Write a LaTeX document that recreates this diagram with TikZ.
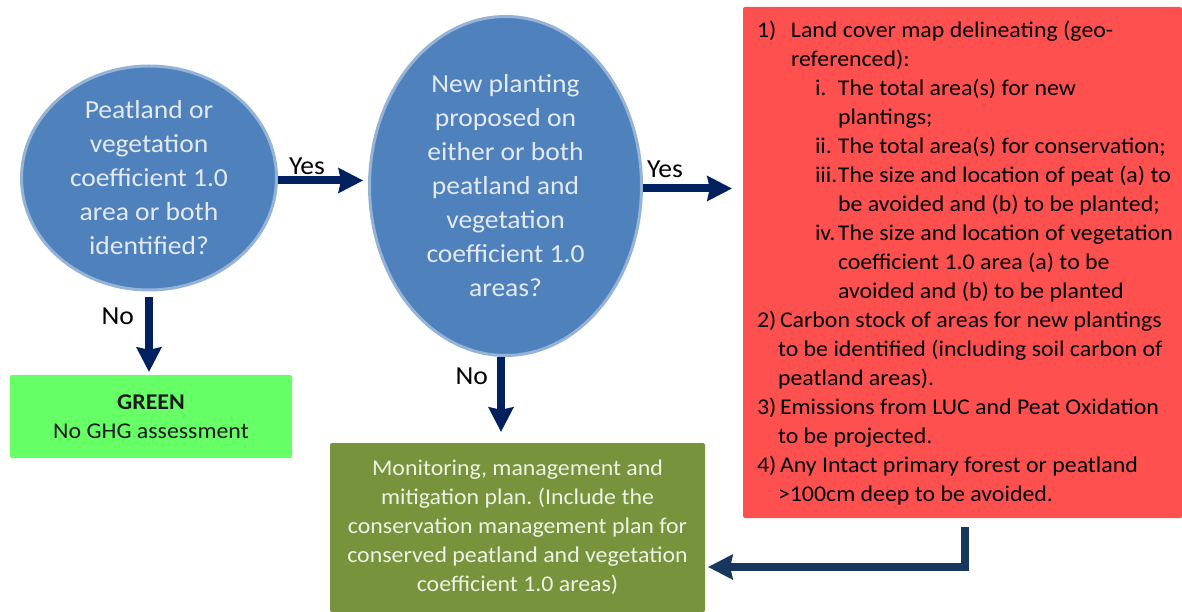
\documentclass[tikz,border=0pt]{standalone}
\usepackage{fontspec}
\setmainfont{Carlito}[FakeStretch=1.06]
\usetikzlibrary{shapes.geometric,arrows.meta}
\frenchspacing

\definecolor{qblue}{HTML}{4F81BD}
\definecolor{qrim}{HTML}{95B3D7}
\definecolor{qtext}{HTML}{E4EAF4}
\definecolor{reqred}{HTML}{FF5050}
\definecolor{greenbox}{HTML}{66FF66}
\definecolor{planolive}{HTML}{77933C}
\definecolor{plantext}{HTML}{EEF2E4}
\definecolor{arrownavy}{HTML}{002060}
\definecolor{backnavy}{HTML}{17375E}

\newcommand\lbl[2]{\makebox[#1][l]{#2}}

\tikzset{
  question/.style={ellipse, fill=qblue, draw=qrim, line width=3pt, inner sep=0pt,
    align=center, text=qtext, font=\fontsize{26}{34}\selectfont},
  infobox/.style={rectangle, rounded corners=2pt, inner sep=0pt, align=center,
    font=\fontsize{22.5}{29}\selectfont},
  flowarrow/.style={draw=arrownavy, line width=8pt,
    -{Stealth[length=25pt, width=26pt, inset=3pt, line width=0pt]}},
  backarrow/.style={flowarrow, draw=backnavy, line join=miter},
  answer/.style={font=\fontsize{26}{29}\selectfont, inner sep=0pt, text=black},
}

\begin{document}
\begin{tikzpicture}[x=1pt, y=-1pt]

\useasboundingbox (0,0) rectangle (1182,612);

% questions
\node[question, minimum width=255pt, minimum height=224pt] (q1) at (149,178)
  {Peatland or\\vegetation\\coefficient 1.0\\area or both\\identified?};
\node[question, minimum width=272pt, minimum height=339pt] (q2) at (505.5,186)
  {New planting\\proposed on\\either or both\\peatland and\\vegetation\\coefficient 1.0\\areas?};

% boxes
\node[infobox, fill=reqred, minimum width=439pt, minimum height=511pt] (req) at (962.5,262.5) {};
\node[anchor=north west, inner sep=0pt, align=left, text=black,
  font=\fontsize{22.5}{29}\selectfont] (reqlist) at ([xshift=14pt, yshift=-9.7pt]req.north west)
  {\strut\lbl{34pt}{1)}Land cover map delineating (geo-\\
   \hspace*{34pt}referenced):\\
   \hspace*{58pt}\lbl{23pt}{i.}The total area(s) for new\\
   \hspace*{81pt}plantings;\\
   \hspace*{58pt}\lbl{23pt}{ii.}The total area(s) for conservation;\\
   \hspace*{58pt}\lbl{23pt}{iii.}The size and location of peat (a) to\\
   \hspace*{81pt}be avoided and (b) to be planted;\\
   \hspace*{58pt}\lbl{23pt}{iv.}The size and location of vegetation\\
   \hspace*{81pt}coefficient 1.0 area (a) to be\\
   \hspace*{81pt}avoided and (b) to be planted\\
   \lbl{23pt}{2)}Carbon stock of areas for new plantings\\
   \hspace*{21pt}to be identified (including soil carbon of\\
   \hspace*{21pt}peatland areas).\\
   \lbl{23pt}{3)}Emissions from LUC and Peat Oxidation\\
   \hspace*{21pt}to be projected.\\
   \lbl{23pt}{4)}Any Intact primary forest or peatland\\
   \hspace*{21pt}>100cm deep to be avoided.};

\node[infobox, fill=greenbox, minimum width=282pt, minimum height=83pt, text=black!90] (green) at (151,416.5)
  {\textbf{GREEN}\\No GHG assessment};
\node[infobox, fill=planolive, minimum width=375pt, minimum height=169pt, text=plantext] (plan) at (517.5,527.5)
  {Monitoring, management and\\mitigation plan. (Include the\\conservation management plan for\\conserved peatland and vegetation\\coefficient 1.0 areas)};

% arrows
\draw[flowarrow] ([yshift=-2.5pt]q1.east) --
  node[answer, pos=0, anchor=base west, shift={(7,-5.5)}] (yes1) {Yes}
  ([xshift=-5pt, yshift=5.5pt]q2.west);
\draw[flowarrow] ([yshift=-2.5pt]q2.east) --
  node[answer, pos=0, anchor=base west, shift={(0,-10.5)}] (yes2) {Yes}
  ([xshift=-11pt, yshift=74pt]req.west);
\draw[flowarrow] ([yshift=-5.5pt]q1.south) --
  node[answer, pos=0, anchor=base east, shift={(-11,27)}] (no1) {No}
  ([xshift=-2pt, yshift=3pt]green.north);
\draw[flowarrow] ([xshift=-4.5pt]q2.south) --
  node[answer, pos=0, anchor=base east, shift={(-9,27)}] (no2) {No}
  ([xshift=-16.5pt, yshift=11pt]plan.north);
\draw[backarrow] ([xshift=2.5pt, yshift=-9pt]req.south) |- ([xshift=3pt, yshift=-39.5pt]plan.east);

\end{tikzpicture}
\end{document}
